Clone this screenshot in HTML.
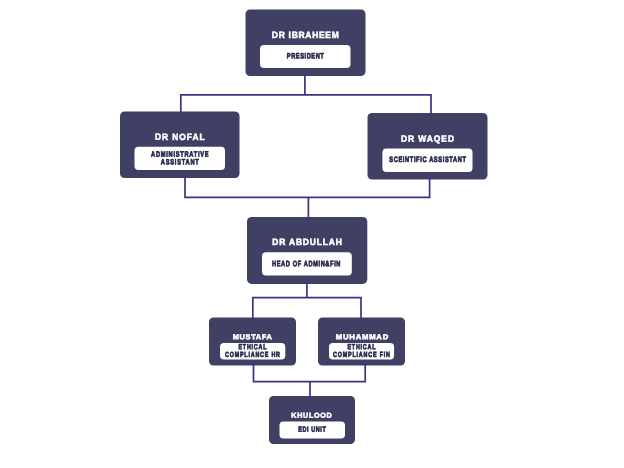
<!DOCTYPE html>
<html lang="en">
<head>
<meta charset="utf-8">
<title>Organization Chart</title>
<style>
html,body{margin:0;padding:0;background:#ffffff;}
body{width:624px;height:468px;overflow:hidden;}
svg{display:block;will-change:transform;text-rendering:geometricPrecision;}
.t{font-family:"Liberation Sans",Arial,sans-serif;font-weight:bold;fill:#ffffff;text-anchor:middle;}
.s{font-family:"Liberation Sans",Arial,sans-serif;font-weight:bold;fill:#27274a;text-anchor:middle;}
</style>
</head>
<body>
<svg width="624" height="468" viewBox="0 0 624 468">
<rect x="0" y="0" width="624" height="468" fill="#ffffff"/>
<rect x="245.5" y="9.5" width="120" height="66.5" rx="4.6" fill="#404065"/>
<rect x="260" y="45" width="90.5" height="23" rx="4" fill="#ffffff"/>
<text class="t" transform="translate(305.3,38) rotate(0.06) scale(0.92,1)" font-size="9.2" stroke="#ffffff" stroke-width="0.55" textLength="72.83" lengthAdjust="spacing">DR IBRAHEEM</text>
<text class="s" transform="translate(305.3,58.5) rotate(0.06) scale(0.72,1)" font-size="7.9" stroke="#27274a" stroke-width="0.7" textLength="51.39" lengthAdjust="spacing">PRESIDENT</text>
<rect x="120" y="111.5" width="119.5" height="66.5" rx="4.6" fill="#404065"/>
<rect x="134.5" y="146.8" width="90.5" height="23.2" rx="4" fill="#ffffff"/>
<text class="t" transform="translate(179.8,139.9) rotate(0.06) scale(0.92,1)" font-size="9.1" stroke="#ffffff" stroke-width="0.55" textLength="53.80" lengthAdjust="spacing">DR NOFAL</text>
<text class="s" transform="translate(179.8,156.7) rotate(0.06) scale(0.72,1)" font-size="7.9" stroke="#27274a" stroke-width="0.7" textLength="79.86" lengthAdjust="spacing">ADMINISTRATIVE</text>
<text class="s" transform="translate(179.8,164.5) rotate(0.06) scale(0.72,1)" font-size="7.9" stroke="#27274a" stroke-width="0.7" textLength="52.78" lengthAdjust="spacing">ASSISTANT</text>
<rect x="367.5" y="113" width="120" height="66.5" rx="4.6" fill="#404065"/>
<rect x="382.4" y="148.4" width="90.1" height="23.6" rx="4" fill="#ffffff"/>
<text class="t" transform="translate(427.5,141.8) rotate(0.06) scale(0.92,1)" font-size="9.2" stroke="#ffffff" stroke-width="0.55" textLength="57.61" lengthAdjust="spacing">DR WAQED</text>
<text class="s" transform="translate(427.6,162) rotate(0.06) scale(0.72,1)" font-size="7.9" stroke="#27274a" stroke-width="0.7" textLength="106.53" lengthAdjust="spacing">SCEINTIFIC ASSISTANT</text>
<rect x="247" y="217" width="120.3" height="66.9" rx="4.6" fill="#404065"/>
<rect x="262" y="252.3" width="89.8" height="23.2" rx="4" fill="#ffffff"/>
<text class="t" transform="translate(307,245) rotate(0.06) scale(0.92,1)" font-size="9.2" stroke="#ffffff" stroke-width="0.55" textLength="75.54" lengthAdjust="spacing">DR ABDULLAH</text>
<text class="s" transform="translate(306.2,266.2) rotate(0.06) scale(0.72,1)" font-size="7.9" stroke="#27274a" stroke-width="0.7" textLength="95.14" lengthAdjust="spacing">HEAD OF ADMIN&amp;FIN</text>
<rect x="209" y="317.5" width="87" height="48" rx="4.6" fill="#404065"/>
<rect x="220" y="343" width="65.3" height="16.6" rx="4" fill="#ffffff"/>
<text class="t" transform="translate(252.3,339.3) rotate(0.06) scale(1.03,1)" font-size="7.2" stroke="#ffffff" stroke-width="0.55" textLength="37.86" lengthAdjust="spacing">MUSTAFA</text>
<text class="s" transform="translate(252.5,349.2) rotate(0.06) scale(0.72,1)" font-size="7.5" stroke="#27274a" stroke-width="0.7" textLength="39.03" lengthAdjust="spacing">ETHICAL</text>
<text class="s" transform="translate(252.5,357) rotate(0.06) scale(0.72,1)" font-size="7.5" stroke="#27274a" stroke-width="0.7" textLength="76.39" lengthAdjust="spacing">COMPLIANCE HR</text>
<rect x="318" y="317.5" width="87" height="48" rx="4.6" fill="#404065"/>
<rect x="329" y="343" width="65.1" height="16.6" rx="4" fill="#ffffff"/>
<text class="t" transform="translate(362,339.3) rotate(0.06) scale(1.07,1)" font-size="7.2" stroke="#ffffff" stroke-width="0.55" textLength="49.07" lengthAdjust="spacing">MUHAMMAD</text>
<text class="s" transform="translate(361.5,349.2) rotate(0.06) scale(0.72,1)" font-size="7.5" stroke="#27274a" stroke-width="0.7" textLength="39.03" lengthAdjust="spacing">ETHICAL</text>
<text class="s" transform="translate(361.5,357) rotate(0.06) scale(0.72,1)" font-size="7.5" stroke="#27274a" stroke-width="0.7" textLength="79.17" lengthAdjust="spacing">COMPLIANCE FIN</text>
<rect x="269" y="396" width="86" height="48" rx="4.6" fill="#404065"/>
<rect x="279.5" y="421.5" width="65.5" height="17" rx="4" fill="#ffffff"/>
<text class="t" transform="translate(311.5,417.7) rotate(0.06) scale(0.98,1)" font-size="7.3" stroke="#ffffff" stroke-width="0.55" textLength="41.33" lengthAdjust="spacing">KHULOOD</text>
<text class="s" transform="translate(312,431.8) rotate(0.06) scale(0.72,1)" font-size="7.6" stroke="#27274a" stroke-width="0.7" textLength="38.19" lengthAdjust="spacing">EDI UNIT</text>
<g stroke="#452f82" stroke-width="1.7" stroke-linecap="butt" stroke-linejoin="miter" fill="none">
<path d="M180.8,114 V94.9 H431 V115.5"/>
<path d="M304.9,74 V94.9"/>
<path d="M185,176 V197.3 H429.6 V177.5"/>
<path d="M308.4,197.3 V219.5"/>
<path d="M252.8,320 V297.6 H361 V320"/>
<path d="M306.9,281.5 V297.6"/>
<path d="M253.5,363.5 V381.7 H365.2 V363.5"/>
<path d="M310,381.7 V399.5"/>
</g>
</svg>
</body>
</html>
